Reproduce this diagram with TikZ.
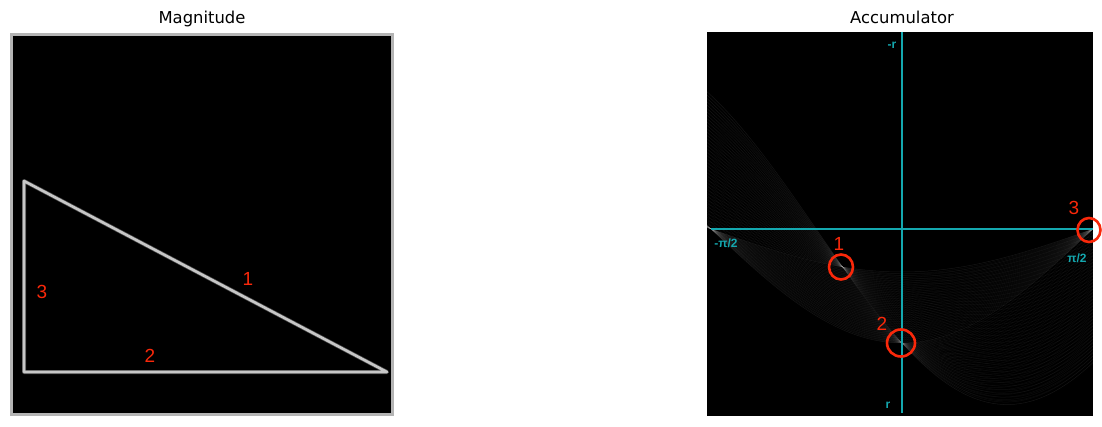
\documentclass[tikz,border=0pt]{standalone}
\usepackage{fontspec}
\setmainfont{DejaVu Sans}
\newfontfamily\labelfont{Liberation Sans}
\definecolor{markred}{RGB}{250,40,10}
\definecolor{axiscyan}{RGB}{20,168,175}
\definecolor{framegray}{RGB}{180,180,180}

\begin{document}
\begin{tikzpicture}[x=1pt,y=-1pt,
  title/.style={font=\fontsize{16.4}{20}\selectfont,anchor=base},
  marknum/.style={font=\labelfont\fontsize{19}{21}\selectfont,text=markred,inner sep=0pt},
  axislabel/.style={font=\labelfont\bfseries\fontsize{12}{14}\selectfont,text=axiscyan,inner sep=0pt},
  edgeline/.style={line width=4pt,draw=black!72!white,line cap=round,line join=round},
  edgecore/.style={line width=2.6pt,draw=black!22!white,line cap=round,line join=round},
  houghline/.style={draw=white,line width=0.5pt,opacity=0.045},
  peak/.style={draw=markred,line width=2.6pt}]
\useasboundingbox (0,0) rectangle (1102,427);
% 标题
\node[title] (titleL) at (202,24) {Magnitude};
\node[title] (titleR) at (902,24) {Accumulator};
% 左图：梯度幅值
\fill[black] (10,33) rectangle (394,416);
\draw[framegray,line width=3pt] (11.5,34.5) rectangle (392.5,414.5);
\coordinate (vtop) at (24,181);
\coordinate (vbl) at (24,372);
\coordinate (vbr) at (387,372);
\draw[edgeline] (vtop) -- (vbl) -- (vbr) -- cycle;
\draw[edgecore] (vtop) -- (vbl) -- (vbr) -- cycle;
\node[marknum] (edgeA) at (248,279) {1};
\node[marknum] (edgeB) at (150,356) {2};
\node[marknum] (edgeC) at (42,292) {3};
% 右图：累加器
\fill[black] (707,32) rectangle (1093,416);
\begin{scope}
\clip (707,32) rectangle (1093,416);
\foreach \s in {0,0.025,...,1.001} {
  % 斜边
  \draw[houghline] plot[domain=-92:90,samples=70] ({902+2.122*\x},{229+(43+71*\s)*cos(\x)+133.6*\s*sin(\x)});
  % 底边
  \draw[houghline] plot[domain=-92:90,samples=70] ({902+2.122*\x},{229+114*cos(\x)+133.6*\s*sin(\x)});
  % 竖边
  \draw[houghline] plot[domain=-92:90,samples=70] ({902+2.122*\x},{229+(43+71*\s)*cos(\x)});
}
\end{scope}
% 坐标轴
\coordinate (rtop) at (902,32);
\coordinate (rbot) at (902,413);
\coordinate (tleft) at (711,229);
\coordinate (tright) at (1093,229);
\draw[axiscyan,line width=1.6pt] (rtop) -- (rbot);
\draw[axiscyan,line width=1.6pt] (tleft) -- (tright);
\node[axislabel] (labrm) at (892,45) {-r};
\node[axislabel] (labrp) at (888,405) {r};
\node[axislabel] (labtm) at (726,243) {-π/2};
\node[axislabel] (labtp) at (1077,258) {π/2};
% 峰值圈
\draw[peak] (841,267) ellipse [x radius=12, y radius=12.5];
\draw[peak] (901,343) ellipse [x radius=14, y radius=13.5];
\draw[peak] (1089,230) ellipse [x radius=11.5, y radius=12];
\node[marknum] (peakA) at (839,244) {1};
\node[marknum] (peakB) at (882,324) {2};
\node[marknum] (peakC) at (1074,208) {3};
\end{tikzpicture}
\end{document}
